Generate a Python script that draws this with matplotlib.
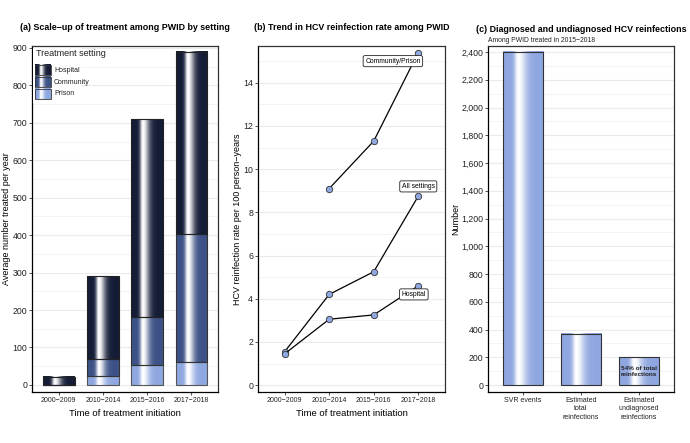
''' HCV treatment scale-up and reinfection among PWID '''
import numpy as np
import matplotlib
matplotlib.use('Agg')
import matplotlib.pyplot as plt
from matplotlib.ticker import MultipleLocator, FuncFormatter
from matplotlib.colors import to_rgb

plt.rcParams['font.family'] = ['Liberation Sans', 'DejaVu Sans']

# panel (a) - average number treated per year by setting
periods = ['2000\u22122009', '2010\u22122014', '2015\u22122016', '2017\u22122018']
prison = [0, 25, 52, 60]
community = [0, 45, 130, 342]
hospital = [22, 220, 528, 488]

# panel (b) - reinfection rate per 100 person-years
rate_comm_prison = [np.nan, 9.1, 11.3, 15.4]
rate_all = [1.55, 4.2, 5.25, 8.75]
rate_hospital = [1.45, 3.05, 3.25, 4.6]

# panel (c) - diagnosed and undiagnosed reinfections
c_labels = ['SVR events', 'Estimated\ntotal\nreinfections', 'Estimated\nundiagnosed\nreinfections']
c_values = [2400, 370, 200]

C_HOSP = '#141c36'
C_COMM = '#3c5186'
C_PRIS = '#8fa7e0'
GRID = '#ebebeb'


def gradient(color, n=200):
    # white streak a bit left of centre, sharper on the left side
    c = np.array(to_rgb(color))
    t = np.linspace(0, 1, n)
    s = np.where(t < 0.37, 0.09, 0.2)
    w = np.exp(-((t - 0.37) / s) ** 2)
    img = c[None, :] * (1 - w[:, None]) + w[:, None]
    return img[None, :, :]


def shade(ax, bars, color):
    for p in bars.patches:
        if p.get_height() <= 0:
            continue
        x, y = p.get_x(), p.get_y()
        ax.imshow(gradient(color), extent=[x, x + p.get_width(), y, y + p.get_height()],
                  aspect='auto', interpolation='bilinear', zorder=1.8, origin='lower')


def style(ax, major, minor):
    ax.yaxis.set_major_locator(MultipleLocator(major))
    ax.yaxis.set_minor_locator(MultipleLocator(minor))
    ax.grid(which='major', axis='y', color=GRID, lw=0.8, zorder=0)
    ax.grid(which='minor', axis='y', color='#f3f3f3', lw=0.6, zorder=0)
    ax.set_axisbelow(True)
    for s in ax.spines.values():
        s.set_color('#333333')
        s.set_linewidth(0.9)
    ax.tick_params(axis='both', which='major', length=2, width=0.6, color='#333333',
                   labelsize=6.3, pad=1.5, labelcolor='#222222')
    ax.tick_params(axis='x', labelsize=5)
    ax.tick_params(which='minor', length=0)


fig = plt.figure(figsize=(6.9, 4.43), dpi=100)
axA = fig.add_axes([0.0464, 0.1151, 0.2696, 0.7810])
axB = fig.add_axes([0.3739, 0.1151, 0.2710, 0.7810])
axC = fig.add_axes([0.7072, 0.1151, 0.2696, 0.7810])

# ---- (a) stacked bars
x = np.arange(len(periods))
w = 0.72
b1 = axA.bar(x, prison, w, color='none', edgecolor='#555555', lw=0.8, zorder=2)
b2 = axA.bar(x, community, w, bottom=prison, color='none', edgecolor='#333333', lw=0.8, zorder=2)
bot = np.array(prison) + np.array(community)
b3 = axA.bar(x, hospital, w, bottom=bot, color='none', edgecolor='#222222', lw=0.8, zorder=2)
shade(axA, b1, C_PRIS)
shade(axA, b2, C_COMM)
shade(axA, b3, C_HOSP)
style(axA, 100, 50)
axA.set_xticks(x)
axA.set_xticklabels(periods)
axA.set_ylabel('Average number treated per year', fontsize=6.5, labelpad=1)
axA.set_xlabel('Time of treatment initiation', fontsize=6.8, labelpad=4)
axA.set_title('(a) Scale\u2212up of treatment among PWID by setting', fontsize=6.4,
              fontweight='bold', pad=11.5)

# legend drawn by hand so the keys can carry the same gradient
axA.add_patch(plt.Rectangle((0.004, 0.835), 0.26, 0.16, transform=axA.transAxes,
                            facecolor='white', edgecolor='none', zorder=3))
axA.text(0.02, 0.977, 'Treatment setting', transform=axA.transAxes, fontsize=6.5,
         va='center', ha='left', color='#222222', zorder=4)
keys = [('Hospital', C_HOSP, 0.945), ('Community', C_COMM, 0.910), ('Prison', C_PRIS, 0.876)]
for lab, col, top in keys:
    axA.imshow(gradient(col), extent=[0.016, 0.102, top - 0.029, top], transform=axA.transAxes,
               aspect='auto', interpolation='bilinear', zorder=4, origin='lower')
    axA.add_patch(plt.Rectangle((0.016, top - 0.029), 0.086, 0.029, transform=axA.transAxes,
                                facecolor='none', edgecolor='#333333', lw=0.6, zorder=5))
    axA.text(0.118, top - 0.0145, lab, transform=axA.transAxes, fontsize=5, va='center',
             ha='left', color='#222222', zorder=5)
axA.set_xlim(-0.6, 3.6)
axA.set_ylim(-19, 905)

# ---- (b) reinfection rate lines
mk = dict(marker='o', ms=4.6, mfc=C_PRIS, mec='#333333', mew=0.6, color='black', lw=0.9)
axB.plot(x, rate_comm_prison, **mk)
axB.plot(x, rate_all, **mk)
axB.plot(x, rate_hospital, **mk)
style(axB, 2, 1)
axB.set_xticks(x)
axB.set_xticklabels(periods)
axB.set_xlim(-0.6, 3.6)
axB.set_ylim(-0.32, 15.7)
axB.set_ylabel('HCV reinfection rate per 100 person\u2212years', fontsize=6.5, labelpad=1)
axB.set_xlabel('Time of treatment initiation', fontsize=6.8, labelpad=4)
axB.set_title('(b) Trend in HCV reinfection rate among PWID', fontsize=6.4,
              fontweight='bold', pad=11.5)
box = dict(boxstyle='round,pad=0.3,rounding_size=0.25', facecolor='white', edgecolor='#222222', lw=0.6)
axB.text(2.43, 15.0, 'Community/Prison', fontsize=4.9, ha='center', va='center', bbox=box, zorder=5)
axB.text(3.0, 9.2, 'All settings', fontsize=4.9, ha='center', va='center', bbox=box, zorder=5)
axB.text(2.9, 4.2, 'Hospital', fontsize=4.9, ha='center', va='center', bbox=box, zorder=5)

# ---- (c) reinfections
xc = np.arange(len(c_values))
bc = axC.bar(xc, c_values, 0.7, color='none', edgecolor='#333333', lw=0.8, zorder=2)
shade(axC, bc, C_PRIS)
style(axC, 200, 100)
axC.yaxis.set_major_formatter(FuncFormatter(lambda v, p: '{:,.0f}'.format(v)))
axC.set_xticks(xc)
axC.set_xticklabels(c_labels, linespacing=1.3)
axC.set_xlim(-0.6, 2.6)
axC.set_ylim(-50, 2443)
axC.set_ylabel('Number', fontsize=6.5, labelpad=0.5)
axC.text(2, 100, '54% of total\nreinfections', fontsize=4.6, fontweight='bold', ha='center',
         va='center', color='#222222', zorder=5, linespacing=1.3)
axC.set_title('(c) Diagnosed and undiagnosed HCV reinfections', fontsize=6.4,
              fontweight='bold', pad=10)
axC.text(0.0, 1.006, 'Among PWID treated in 2015\u22122018', transform=axC.transAxes,
         fontsize=4.9, ha='left', va='bottom', color='#222222')

for ax in (axA, axB, axC):
    ax.spines['left'].set_color('black')
    ax.spines['bottom'].set_color('black')

fig.savefig('out.png', dpi=100)
